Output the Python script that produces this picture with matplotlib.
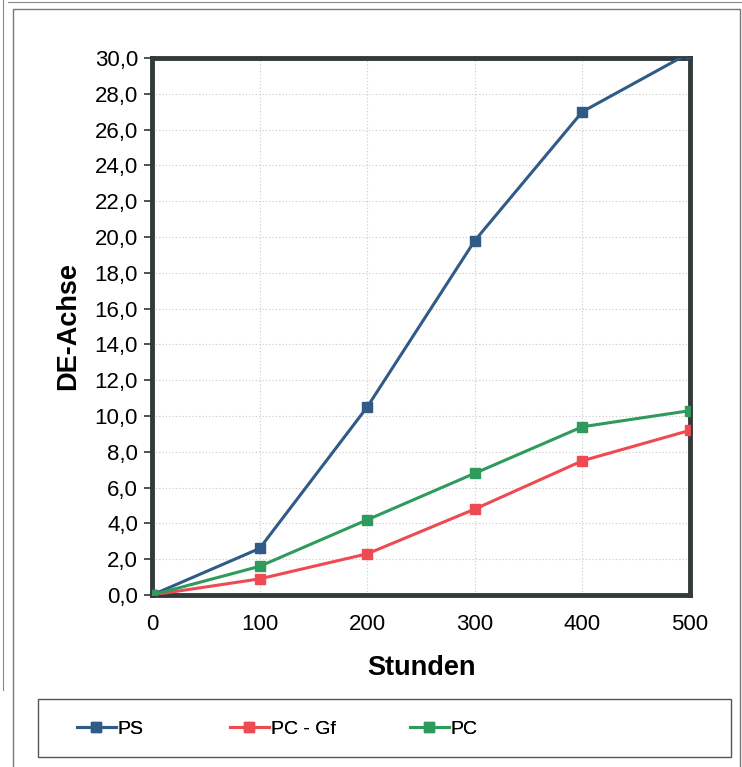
import matplotlib
matplotlib.use("Agg")
import matplotlib.pyplot as plt
from matplotlib.patches import Rectangle
from matplotlib.lines import Line2D

plt.rcParams['font.family'] = ['Liberation Sans', 'DejaVu Sans']

stunden = [0, 100, 200, 300, 400, 500]
ps = [0.0, 2.6, 10.5, 19.8, 27.0, 30.3]
pc_gf = [0.0, 0.9, 2.3, 4.8, 7.5, 9.2]
pc = [0.0, 1.6, 4.2, 6.8, 9.4, 10.3]
names = ["PS", "PC - Gf", "PC"]
colors = ["#2f5b86", "#ee4a52", "#2e9a5c"]

W, H = 742, 767
fig = plt.figure(figsize=(W / 100, H / 100), dpi=100)
ax = fig.add_axes([152 / W, 1 - 595 / H, (690 - 152) / W, (595 - 58) / H])

handles = []
for ys, name, c in zip([ps, pc_gf, pc], names, colors):
    h, = ax.plot(stunden, ys, color=c, lw=2.2, marker="s", ms=7.5, label=name, zorder=3)
    handles.append(h)

ax.set_xlim(0, 500)
ax.set_ylim(0, 30)
ax.set_xticks(stunden)
ax.set_yticks(range(0, 31, 2))
ax.set_yticklabels([f"{v:.1f}".replace(".", ",") for v in range(0, 31, 2)])
ax.tick_params(axis="y", length=6, width=1.2, color="#333", labelsize=16, pad=4)
ax.tick_params(axis="x", length=0, labelsize=16, pad=14)
ax.grid(True, color="#c8c8c8", ls=(0, (1, 2)), lw=0.8)
for s in ax.spines.values():
    s.set_linewidth(3.5)
    s.set_color("#333a3a")
ax.set_xlabel("Stunden", fontsize=19.5, fontweight="bold", labelpad=14)
ax.set_ylabel("DE-Achse", fontsize=19.5, fontweight="bold", labelpad=10)

# outer chart frame
fig.patches.append(Rectangle((13 / W, -0.01), (740 - 13) / W, 1 - 9 / H + 0.01,
                             transform=fig.transFigure, fill=False, lw=1.0, ec="#777"))
fig.lines.append(Line2D([3 / W, 3 / W], [1 - 690 / H, 1], transform=fig.transFigure, lw=0.8, color="#888"))
fig.lines.append(Line2D([8 / W, 1], [1 - 2 / H, 1 - 2 / H], transform=fig.transFigure, lw=0.8, color="#888"))

# legend box
fig.patches.append(Rectangle((38 / W, 1 - 757 / H), (731 - 38) / W, 58 / H,
                             transform=fig.transFigure, fill=False, lw=1.0, ec="#555"))
for h, x0 in zip(handles, [77, 230, 410]):
    lg = fig.legend(handles=[h], loc="center left", bbox_to_anchor=(x0 / W, 1 - 729 / H),
                    prop={"size": 14}, frameon=False, handlelength=2.0, handletextpad=0.1,
                    borderpad=0, borderaxespad=0)
    fig.add_artist(lg)

fig.savefig("out.png", dpi=100)
